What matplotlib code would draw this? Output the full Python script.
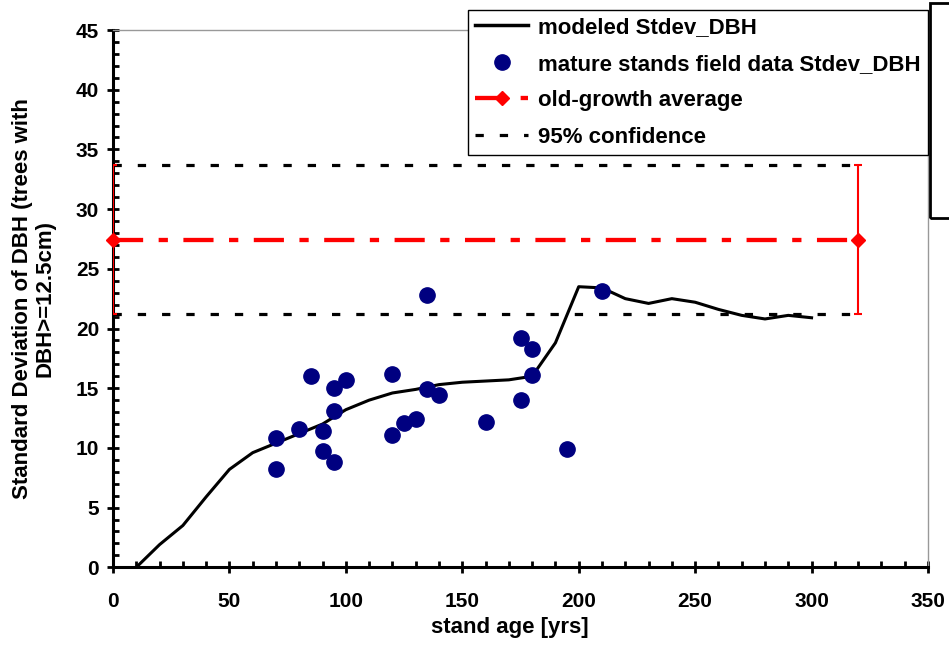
import numpy as np
import matplotlib
matplotlib.use("Agg")
import matplotlib.pyplot as plt
from matplotlib.lines import Line2D
from matplotlib.patches import Rectangle
from matplotlib.ticker import MultipleLocator

plt.rcParams['font.family'] = ['Liberation Sans', 'DejaVu Sans']
plt.rcParams['font.weight'] = 'bold'

# modeled Stdev_DBH curve
model_age = [10, 20, 30, 40, 50, 60, 70, 80, 90, 100, 110, 120, 130, 140, 150,
             160, 170, 180, 190, 200, 210, 220, 230, 240, 250, 260, 270, 280, 290, 300]
model_sd = [0.0, 1.9, 3.5, 5.9, 8.2, 9.6, 10.4, 11.2, 12.0, 13.2, 14.0, 14.6, 14.9, 15.3, 15.5,
            15.6, 15.7, 16.0, 18.8, 23.5, 23.4, 22.5, 22.1, 22.5, 22.2, 21.6, 21.1, 20.8, 21.1, 20.9]

# mature stands field data
field_age = [70, 70, 80, 85, 90, 90, 95, 95, 95, 100, 120, 120, 125, 130,
             135, 135, 140, 160, 175, 175, 180, 180, 195, 210]
field_sd = [10.8, 8.2, 11.6, 16.0, 11.4, 9.7, 15.0, 13.1, 8.8, 15.7, 16.2, 11.1, 12.1, 12.4,
            14.9, 22.8, 14.4, 12.2, 14.0, 19.2, 16.1, 18.3, 9.9, 23.1]

# old-growth average and 95% confidence
og_age = [0, 320]
og_mean = 27.45
og_low = 21.2
og_high = 33.7

fig = plt.figure(figsize=(9.49, 6.47), dpi=100)
ax = fig.add_axes([113 / 949, 1 - 567.3 / 647, 815 / 949, 537.3 / 647])

ax.plot(model_age, model_sd, color='black', lw=2.2, zorder=3)
ax.plot(field_age, field_sd, 'o', color='#000080', ms=11, mec='#000080', zorder=4)

conf_ls = (0, (2.6, 5.0))
ax.plot(og_age, [og_high, og_high], color='black', lw=2.3, ls=conf_ls, zorder=2)
ax.plot(og_age, [og_low, og_low], color='black', lw=2.3, ls=conf_ls, zorder=2)

og_ls = (0, (7, 3.6, 2.15, 3.6))
ax.errorbar(og_age, [og_mean, og_mean], yerr=[[og_mean - og_low] * 2, [og_high - og_mean] * 2],
            fmt='none', ecolor='red', elinewidth=1.5, capsize=3, capthick=1.5, zorder=5)
ax.plot(og_age, [og_mean, og_mean], color='red', lw=3.1, ls=og_ls, marker='D', ms=7,
        mfc='red', mec='red', zorder=5, clip_on=False)

ax.set_xlim(0, 350)
ax.set_ylim(0, 45)
ax.xaxis.set_major_locator(MultipleLocator(50))
ax.xaxis.set_minor_locator(MultipleLocator(10))
ax.yaxis.set_major_locator(MultipleLocator(5))
ax.yaxis.set_minor_locator(MultipleLocator(1))

for s in ['left', 'bottom']:
    ax.spines[s].set_linewidth(2.2)
    ax.spines[s].set_color('black')
for s in ['top', 'right']:
    ax.spines[s].set_linewidth(1)
    ax.spines[s].set_color('#999999')

ax.tick_params(which='major', direction='inout', length=8, width=2, labelsize=15)
ax.tick_params(which='minor', direction='in', length=4, width=2)
ax.tick_params(axis='x', which='major', pad=14)
ax.tick_params(axis='y', which='major', pad=6)
for lab in ax.get_xticklabels() + ax.get_yticklabels():
    lab.set_fontweight('bold')

fig.text(510 / 949, 1 - 627 / 647, 'stand age [yrs]', ha='center', va='center',
         fontsize=16, fontweight='bold')
fig.text(34 / 949, 1 - 298.5 / 647, 'Standard Deviation of DBH (trees with\nDBH>=12.5cm)',
         ha='center', va='center', rotation=90, fontsize=16, fontweight='bold',
         linespacing=1.1)

handles = [
    Line2D([], [], color='black', lw=2.5),
    Line2D([], [], ls='none', marker='o', color='#000080', ms=11),
    Line2D([], [], color='red', lw=3.1, ls=og_ls, marker='D', ms=7),
    Line2D([], [], color='black', lw=2.3, ls=conf_ls),
]
labels = ['modeled Stdev_DBH', 'mature stands field data Stdev_DBH',
          'old-growth average', '95% confidence']
leg = fig.legend(handles, labels, loc='upper right', bbox_to_anchor=(928 / 949, 1 - 10 / 647),
                 bbox_transform=fig.transFigure, fancybox=False, framealpha=1,
                 edgecolor='black', prop={'weight': 'bold', 'size': 16},
                 borderpad=0.32, labelspacing=0.7, handlelength=2.4, handletextpad=0.45,
                 borderaxespad=0)
leg.get_frame().set_linewidth(1)

fig.patches.append(Rectangle((930 / 949, 1 - 218 / 647), 0.1, 215 / 647, transform=fig.transFigure,
                             fill=False, edgecolor='black', lw=2, clip_on=False))

fig.savefig('out.png', dpi=100)
